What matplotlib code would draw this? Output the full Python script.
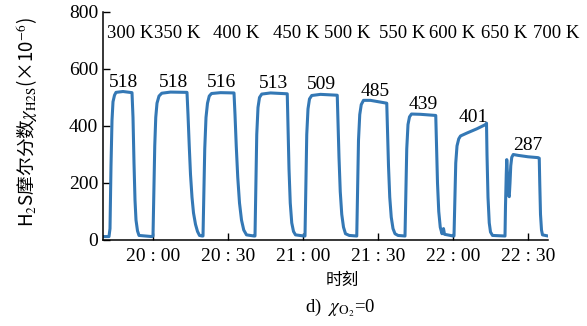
import matplotlib
matplotlib.use("Agg")
import matplotlib.pyplot as plt
import numpy as np

plt.rcParams['font.family'] = ['Liberation Serif', 'Noto Sans CJK SC']
plt.rcParams['mathtext.fontset'] = 'stix'

# minutes after 19:40 and H2S mole fraction (x1e-6)
time_min = [0, 2.4, 2.8, 3.2, 3.6, 4.0, 4.6, 5.2, 8.0, 11.6, 12.0, 12.4, 12.8, 13.2, 13.8, 14.4, 17.0, 19.6,
            20.0, 20.3, 20.7, 21.1, 21.6, 22.4, 23.5, 27.0, 33.6, 34.0, 34.5, 35.0, 35.6, 36.2, 37.0, 37.8, 38.6, 39.6,
            40.0, 40.3, 40.7, 41.2, 41.8, 42.5, 43.4, 47.0, 52.4, 52.8, 53.3, 53.9, 54.6, 55.4, 56.3, 57.4, 60.4,
            60.8, 61.1, 61.5, 62.0, 62.6, 63.5, 67.0, 73.7, 74.0, 74.4, 74.9, 75.5, 76.2, 77.0, 80.4,
            80.8, 81.1, 81.5, 82.0, 82.6, 83.5, 87.0, 93.7, 94.0, 94.4, 94.9, 95.5, 96.2, 97.0, 98.5, 101.2,
            101.5, 101.8, 102.2, 102.7, 103.3, 104.2, 107.0, 111.0, 113.5, 113.8, 114.2, 114.7, 115.3, 116.0, 116.8, 118.0, 120.4,
            120.8, 121.1, 121.5, 122.0, 122.6, 123.4, 127.0, 133.1, 133.4, 133.8, 134.3, 134.9, 135.6, 136.2, 136.6, 140.1,
            140.4, 140.7, 141.1, 141.6, 142.3, 143.0, 145.5, 149.5, 153.0, 153.4, 153.6, 154.0, 154.5, 155.0, 155.8, 160.4,
            160.8, 161.0, 161.3, 161.5, 161.8, 162.1, 162.5, 162.8, 163.1, 163.5, 164.1, 166.0, 170.0, 174.0, 174.5,
            174.7, 175.0, 175.4, 175.8, 178.0]
h2s = [12, 12, 40, 260, 420, 485, 508, 518, 521, 517, 430, 270, 140, 70, 32, 16, 14, 12,
       14, 150, 330, 430, 480, 505, 515, 519, 518, 440, 330, 230, 150, 95, 55, 30, 16, 14,
       14, 150, 320, 430, 480, 505, 514, 517, 516, 440, 330, 220, 130, 70, 35, 18, 14,
       14, 170, 370, 465, 500, 512, 516, 513, 400, 250, 130, 60, 30, 18, 14,
       14, 170, 370, 460, 495, 507, 511, 508, 420, 290, 170, 90, 45, 22, 16, 14,
       14, 160, 350, 440, 475, 490, 490, 484, 480, 390, 260, 150, 80, 40, 22, 16, 14,
       14, 150, 320, 405, 432, 442, 441, 437, 340, 200, 100, 45, 22, 40, 20, 14,
       14, 130, 270, 330, 355, 365, 375, 390, 405, 410, 300, 150, 60, 28, 16, 14,
       14, 120, 230, 282, 230, 160, 152, 200, 260, 290, 300, 297, 292, 289, 287,
       200, 90, 35, 18, 14]

peak_values = [518, 518, 516, 513, 509, 485, 439, 401, 287]
peak_label_min = [8.2, 28.0, 47.5, 68.0, 87.5, 109.0, 128.0, 148.0, 170.0]
peak_label_base = [538, 538, 536, 533, 529, 507, 459, 414, 315]

temps = ['300 K', '350 K', '400 K', '450 K', '500 K', '550 K', '600 K', '650 K', '700 K']
temp_label_min = [10.8, 29.6, 53.2, 77.2, 97.6, 119.6, 139.6, 160.4, 181.2]

xtick_min = [20, 50, 80, 110, 140, 170]
xtick_labels = ['20 : 00', '20 : 30', '21 : 00', '21 : 30', '22 : 00', '22 : 30']

fig = plt.figure(figsize=(5.87, 3.26), dpi=100)
ax = fig.add_axes([103/587, 1-240/326, 445/587, 228/326])

ax.plot(time_min, h2s, color='#3478b5', lw=2.2)

for v, t, yb in zip(peak_values, peak_label_min, peak_label_base):
    ax.text(t, yb, str(v), ha='center', va='baseline', fontsize=14)
for lab, t in zip(temps, temp_label_min):
    ax.text(t, 726, lab, ha='center', va='center', fontsize=13.5, clip_on=False)

ax.set_xlim(0, 178)
ax.set_ylim(0, 800)
ax.set_yticks([0, 200, 400, 600, 800])
ax.set_xticks(xtick_min)
ax.set_xticklabels(xtick_labels)
ax.tick_params(direction='in', length=5, width=1, labelsize=14)
ax.tick_params(axis='x', pad=6, labelsize=14)
for s in ['top', 'right']:
    ax.spines[s].set_visible(False)
for s in ['left', 'bottom']:
    ax.spines[s].set_linewidth(1.1)

fig.text(27/587, 1-122/326, 'H$_2$S摩尔分数$\\chi_{\\mathrm{H2S}}$(×10$^{-6}$)',
         rotation=90, ha='center', va='center', fontsize=13.5, family='Noto Sans CJK SC')
fig.text(342/587, 1-280/326, '时刻', ha='center', va='center', fontsize=12, family='Noto Sans CJK SC')
fig.text(340/587, 1-308/326, 'd)  $\\chi_{\\mathrm{O_2}}$=0', ha='center', va='center', fontsize=13.5)

fig.savefig('out.png', dpi=100)
